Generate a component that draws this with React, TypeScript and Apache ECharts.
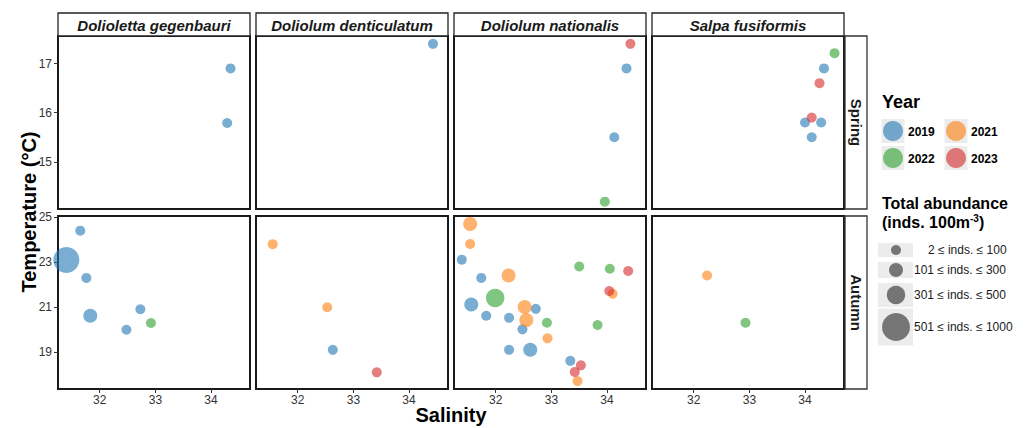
import React, { useEffect, useRef } from "react";
import * as echarts from "echarts";

// ---------- data ----------
const species = ["Dolioletta gegenbauri", "Doliolum denticulatum", "Doliolum nationalis", "Salpa fusiformis"];
const seasons = ["Spring", "Autumn"];
const years = [2019, 2021, 2022, 2023];
const sizeClassLabels = ["2 ≤ inds. ≤ 100", "101 ≤ inds. ≤ 300", "301 ≤ inds. ≤ 500", "501 ≤ inds. ≤ 1000"];

const salinityTicks = [32, 33, 34];
const springTempTicks = [15, 16, 17];
const autumnTempTicks = [19, 21, 23, 25];

// [salinity, temperature, year, size class (1..4)]
const springDolioletta = [[34.35, 16.9, 2019, 1], [34.29, 15.79, 2019, 1]];
const springDenticulatum = [[34.43, 17.4, 2019, 1]];
const springNationalis = [[34.42, 17.4, 2023, 1], [34.35, 16.9, 2019, 1], [34.13, 15.5, 2019, 1], [33.96, 14.19, 2022, 1]];
const springSalpa = [
  [34.53, 17.21, 2022, 1], [34.34, 16.9, 2019, 1], [34.26, 16.6, 2023, 1], [34.12, 15.9, 2023, 1],
  [34.0, 15.8, 2019, 1], [34.29, 15.8, 2019, 1], [34.12, 15.5, 2019, 1],
];
const autumnDolioletta = [
  [31.65, 24.39, 2019, 1], [31.4, 23.09, 2019, 4], [31.76, 22.29, 2019, 1], [31.83, 20.61, 2019, 2],
  [32.73, 20.9, 2019, 1], [32.48, 19.99, 2019, 1], [32.92, 20.29, 2022, 1],
];
const autumnDenticulatum = [[31.55, 23.79, 2021, 1], [32.53, 20.99, 2021, 1], [32.63, 19.1, 2019, 1], [33.42, 18.1, 2023, 1]];
const autumnNationalis = [
  [31.54, 24.69, 2021, 2], [31.54, 23.8, 2021, 1], [31.39, 23.1, 2019, 1], [31.74, 22.29, 2019, 1],
  [32.23, 22.4, 2021, 2], [31.56, 21.11, 2019, 2], [31.99, 21.4, 2022, 3], [31.83, 20.61, 2019, 1],
  [32.24, 20.52, 2019, 1], [32.52, 21.0, 2021, 2], [32.72, 20.92, 2019, 1], [32.55, 20.42, 2021, 2],
  [32.48, 20.01, 2019, 1], [32.92, 20.3, 2022, 1], [32.93, 19.61, 2021, 1], [32.24, 19.1, 2019, 1],
  [32.62, 19.1, 2019, 2], [33.5, 22.8, 2022, 1], [34.05, 22.7, 2022, 1], [34.38, 22.6, 2023, 1],
  [34.04, 21.71, 2023, 1], [34.1, 21.59, 2021, 1], [33.83, 20.2, 2022, 1], [33.34, 18.61, 2019, 1],
  [33.53, 18.41, 2023, 1], [33.42, 18.12, 2023, 1], [33.47, 17.71, 2021, 1],
];
const autumnSalpa = [[32.24, 22.4, 2021, 1], [32.93, 20.3, 2022, 1]];

const panels = [
  [springDolioletta, springDenticulatum, springNationalis, springSalpa],
  [autumnDolioletta, autumnDenticulatum, autumnNationalis, autumnSalpa],
];

// ---------- styling ----------
const yearColors = ["#1f77b4", "#ff7f0e", "#2ca02c", "#d62728"];
const sizePx = [10, 14, 18.5, 26];
const FONT = "'Liberation Sans', Arial, sans-serif";
const colLeft = [58, 256, 454, 652];
const rowTop = [36, 216];
const PW = 192;
const PH = 173;
const xRange = [31.25, 34.7];
const yRanges = [[14.04, 17.56], [17.36, 25.04]];
const yTicks = [springTempTicks, autumnTempTicks];

function buildOption() {
  const grid: any[] = [];
  const xAxis: any[] = [];
  const yAxis: any[] = [];
  const series: any[] = [];
  const graphic: any[] = [];

  for (let r = 0; r < 2; r++) {
    for (let c = 0; c < 4; c++) {
      const idx = r * 4 + c;
      grid.push({
        left: colLeft[c], top: rowTop[r], width: PW, height: PH,
        show: true, borderColor: "#1a1a1a", borderWidth: 2, backgroundColor: "#fff",
      });
      xAxis.push({
        type: "value", gridIndex: idx, min: xRange[0], max: xRange[1],
        axisLine: { show: false }, splitLine: { show: false },
        axisTick: { show: r === 1, customValues: salinityTicks, length: 4, lineStyle: { color: "#333" } },
        axisLabel: { show: r === 1, customValues: salinityTicks, fontSize: 12, color: "#333", margin: 5, fontFamily: FONT },
      });
      yAxis.push({
        type: "value", gridIndex: idx, min: yRanges[r][0], max: yRanges[r][1],
        axisLine: { show: false }, splitLine: { show: false },
        axisTick: { show: c === 0, customValues: yTicks[r], length: 4, lineStyle: { color: "#333" } },
        axisLabel: { show: c === 0, customValues: yTicks[r], fontSize: 12, color: "#333", margin: 6, fontFamily: FONT },
      });
      const pts = panels[r][c];
      years.forEach((yr, yi) => {
        const d = pts.filter((p) => p[2] === yr);
        if (!d.length) return;
        series.push({
          type: "scatter", xAxisIndex: idx, yAxisIndex: idx, clip: false,
          data: d,
          symbolSize: (v: number[]) => sizePx[v[3] - 1],
          itemStyle: { color: yearColors[yi], opacity: 0.6, borderWidth: 0 },
          emphasis: { disabled: true },
        });
      });
    }
  }

  // top strips
  species.forEach((sp, c) => {
    graphic.push({
      type: "rect", shape: { x: colLeft[c], y: 13, width: PW, height: 23 },
      style: { fill: "#fff", stroke: "#222", lineWidth: 1.3 }, z: 10,
    });
    graphic.push({
      type: "text", x: colLeft[c] + PW / 2, y: 25, z: 11,
      style: { text: sp, fontFamily: FONT, fontWeight: "bold", fontStyle: "italic", fontSize: 15, fill: "#1a1a1a", align: "center", verticalAlign: "middle" },
    });
  });
  // right strips
  seasons.forEach((s, r) => {
    graphic.push({
      type: "rect", shape: { x: 845, y: rowTop[r], width: 22, height: PH },
      style: { fill: "#fff", stroke: "#333", lineWidth: 1.3 }, z: 10,
    });
    graphic.push({
      type: "text", x: 856, y: rowTop[r] + PH / 2, rotation: -Math.PI / 2, z: 11,
      style: { text: s, fontFamily: FONT, fontWeight: "bold", fontSize: 15, fill: "#1a1a1a", align: "center", verticalAlign: "middle" },
    });
  });
  // axis titles
  graphic.push({
    type: "text", x: 29, y: 212, rotation: Math.PI / 2, z: 11,
    style: { text: "Temperature (°C)", fontFamily: FONT, fontWeight: "bold", fontSize: 20, fill: "#000", align: "center", verticalAlign: "middle" },
  });
  graphic.push({
    type: "text", x: 451, y: 415, z: 11,
    style: { text: "Salinity", fontFamily: FONT, fontWeight: "bold", fontSize: 20, fill: "#000", align: "center", verticalAlign: "middle" },
  });

  // Year legend
  graphic.push({
    type: "text", x: 882, y: 102, z: 11,
    style: { text: "Year", fontFamily: FONT, fontWeight: "bold", fontSize: 18, fill: "#000", align: "left", verticalAlign: "middle" },
  });
  const keyPos = [[893, 131], [956, 131], [893, 158], [956, 158]];
  years.forEach((yr, yi) => {
    const [cx, cy] = keyPos[yi];
    graphic.push({ type: "rect", shape: { x: cx - 11.5, y: cy - 12, width: 23, height: 24 }, style: { fill: "#ececec" }, z: 10 });
    graphic.push({ type: "circle", shape: { cx, cy, r: 10 }, style: { fill: yearColors[yi], opacity: 0.6 }, z: 11 });
    graphic.push({
      type: "text", x: cx + 15, y: cy + 1, z: 11,
      style: { text: String(yr), fontFamily: FONT, fontWeight: "bold", fontSize: 12, fill: "#000", align: "left", verticalAlign: "middle" },
    });
  });

  // Size legend
  graphic.push({
    type: "text", x: 882, y: 203, z: 11,
    style: { text: "Total abundance", fontFamily: FONT, fontWeight: "bold", fontSize: 16, fill: "#000", align: "left", verticalAlign: "middle" },
  });
  graphic.push({
    type: "text", x: 882, y: 222, z: 11,
    style: {
      text: "{a|(inds. 100m}{s|-3}{a|)}",
      align: "left", verticalAlign: "middle",
      rich: {
        a: { fontFamily: FONT, fontWeight: "bold", fontSize: 16, fill: "#000", lineHeight: 18 },
        s: { fontFamily: FONT, fontWeight: "bold", fontSize: 10, fill: "#000", verticalAlign: "top", lineHeight: 18, padding: [0, 0, 6, 0] },
      },
    },
  });
  const sizeRows = [
    { cy: 250, bh: 14 },
    { cy: 270, bh: 16 },
    { cy: 295, bh: 24 },
    { cy: 327, bh: 37 },
  ];
  sizeRows.forEach((row, i) => {
    graphic.push({ type: "rect", shape: { x: 878, y: row.cy - row.bh / 2, width: 35, height: row.bh }, style: { fill: "#ececec" }, z: 10 });
    graphic.push({ type: "circle", shape: { cx: 896, cy: row.cy, r: sizePx[i] / 2 + (i === 3 ? 1 : 0) }, style: { fill: "#4d4d4d", opacity: 0.75 }, z: 11 });
    graphic.push({
      type: "text", x: i === 0 ? 928 : 914, y: row.cy, z: 11,
      style: { text: sizeClassLabels[i], fontFamily: FONT, fontSize: 12, fill: "#1a1a1a", align: "left", verticalAlign: "middle" },
    });
  });

  return { animation: false, backgroundColor: "#fff", grid, xAxis, yAxis, series, graphic };
}

export default function App() {
  const ref = useRef<HTMLDivElement>(null);
  useEffect(() => {
    if (!ref.current) return;
    const chart = echarts.init(ref.current, undefined, { renderer: "svg" });
    chart.setOption(buildOption() as any);
    return () => chart.dispose();
  }, []);
  return <div ref={ref} style={{ width: 1035, height: 428, position: "absolute", left: 0, top: 0 }} />;
}
